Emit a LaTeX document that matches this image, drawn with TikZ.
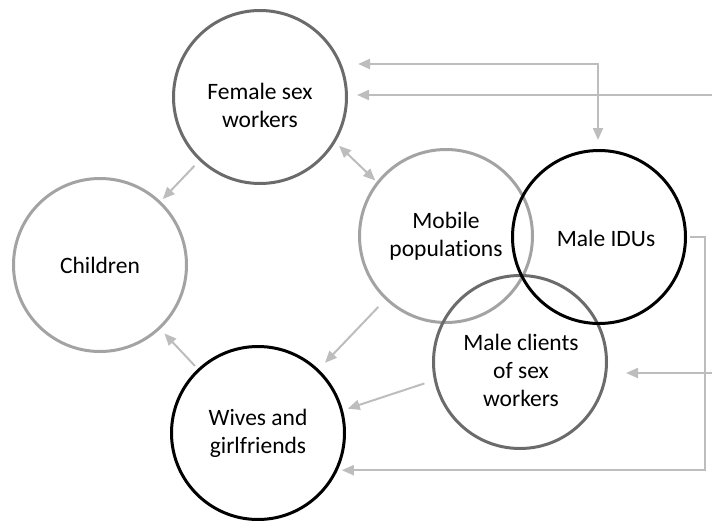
\documentclass[tikz,border=0pt]{standalone}
\usepackage{fontspec}
\setmainfont[Ligatures=NoCommon]{Carlito}
\usetikzlibrary{arrows.meta}
\definecolor{darkring}{HTML}{6B6B6B}
\definecolor{lightring}{HTML}{A3A3A3}
\definecolor{arrowgray}{HTML}{BDBDBD}
\begin{document}
\begin{tikzpicture}[x=1pt,y=-1pt,
  ring/.style={circle, draw, line width=3pt, minimum size=173pt, inner sep=0pt, align=center, font=\fontsize{23.5}{28}\selectfont},
  txt/.style={inner sep=0pt, align=center, font=\fontsize{23.5}{28}\selectfont},
  arr/.style={draw=arrowgray, line width=2pt, -{Triangle[length=12pt,width=10pt]}},
  biarr/.style={draw=arrowgray, line width=2pt, {Triangle[length=12pt,width=10pt]}-{Triangle[length=12pt,width=10pt]}}]
\useasboundingbox (0,0) rectangle (712,520);
\node[ring, draw=darkring] (FSW) at (260,97) {};
\node[txt] (FSWt) at (260,105) {Female sex\\workers};
\node[ring, draw=lightring] (CH) at (100,265) {Children};
\node[ring, draw=lightring] (MP) at (446,236) {Mobile\\populations};
\node[ring, draw=darkring] (MC) at (520,362) {};
\node[txt] (MCt) at (521,370) {Male clients\\of sex\\workers};
\node[ring, draw=black] (IDU) at (599,237) {};
\node[txt] (IDUt) at (606,238) {Male IDUs};
\node[ring, draw=black] (WG) at (258,433) {Wives and\\girlfriends};
\draw[arr, shorten <=7pt, shorten >=3pt] (FSW) -- (CH);
\draw[biarr, shorten <=5pt, shorten >=2pt] (FSW.-31) -- (MP.142);
\draw[arr, shorten <=10pt, shorten >=9pt] (MP) -- (WG);
\draw[arr, shorten <=4pt, shorten >=6pt] (WG) -- (CH);
\draw[arr, shorten <=10pt, shorten >=5pt] (MC.192) -- (WG.15);
\coordinate (r1) at (705,237);
\draw[arr, shorten <=3pt, shorten >=4pt] (IDU.east) -- (r1) |- (WG.-25.5);
\coordinate (e1) at (712,373);
\draw[arr, shorten >=18pt] (e1) -- (e1 -| MC.east);
\coordinate (e2) at (712,95);
\draw[arr, shorten >=9pt] (e2) -- (e2 -| FSW.east);
\coordinate (t1) at (598,64);
\draw[biarr, shorten <=10pt, shorten >=9pt] (t1 -| FSW.east) -- (t1) -- (t1 |- IDU.north);
\end{tikzpicture}
\end{document}
